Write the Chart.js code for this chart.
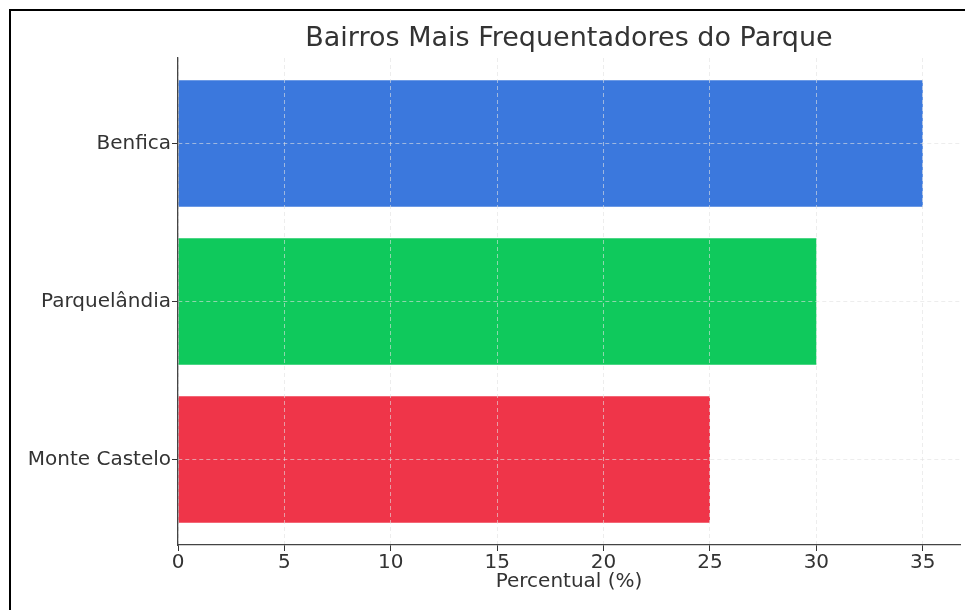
<!DOCTYPE html>
<html lang="pt">
<head>
<meta charset="utf-8">
<title>Bairros Mais Frequentadores do Parque</title>
<script src="https://cdn.jsdelivr.net/npm/chart.js@4/dist/chart.umd.min.js"></script>
<style>
  html, body { margin: 0; padding: 0; background: #fff; overflow: hidden; }
  #wrap { position: relative; width: 965px; height: 610px; }
  #frame {
    position: absolute; left: 9px; top: 9px; width: 1000px; height: 700px;
    border-left: 2px solid #000; border-top: 2px solid #000;
    pointer-events: none;
  }
  canvas { position: absolute; left: 0; top: 0; }
</style>
</head>
<body>
<div id="wrap">
  <canvas id="chart" width="965" height="610"></canvas>
  <div id="frame"></div>
</div>
<script>
  /* ── Data ── */
  const CHART_TITLE = 'Bairros Mais Frequentadores do Parque';
  const X_TITLE = 'Percentual (%)';
  const bairros = ['Benfica', 'Parquelândia', 'Monte Castelo'];
  const percentuais = [35, 30, 25];
  const barColors = ['#3b78dd', '#0fc95c', '#ef3549'];
  const xTicks = [0, 5, 10, 15, 20, 25, 30, 35];

  const TEXT = '#333333';
  const FONT = "'DejaVu Sans', sans-serif";
  const GRID = 'rgba(225,225,225,0.6)';

  /* title centred over the plot area, like matplotlib */
  const plotTitle = {
    id: 'plotTitle',
    afterDraw(chart) {
      const { ctx, chartArea } = chart;
      ctx.save();
      ctx.font = '27px ' + FONT;
      ctx.fillStyle = TEXT;
      ctx.textAlign = 'center';
      ctx.textBaseline = 'middle';
      ctx.fillText(CHART_TITLE, (chartArea.left + chartArea.right) / 2, 39);
      ctx.restore();
    }
  };

  new Chart(document.getElementById('chart'), {
    type: 'bar',
    data: {
      datasets: [{
        data: bairros.map((b, i) => ({ x: percentuais[i], y: i })),
        backgroundColor: barColors,
        borderWidth: 0,
        barPercentage: 0.8,
        categoryPercentage: 1,
      }],
    },
    options: {
      responsive: false,
      animation: false,
      indexAxis: 'y',
      layout: { padding: { top: 58, right: 5, left: 0, bottom: 0 } },
      plugins: {
        legend: { display: false },
        tooltip: { enabled: false },
        title: { display: false },
      },
      scales: {
        x: {
          type: 'linear',
          min: 0,
          max: 36.75,
          afterFit(scale) { scale.height = 65; },
          afterBuildTicks(scale) { scale.ticks = xTicks.map(v => ({ value: v })); },
          ticks: {
            color: TEXT,
            font: { family: FONT, size: 20 },
            padding: 0,
          },
          grid: {
            z: 1,
            color: GRID,
            lineWidth: 1,
            tickColor: '#333',
            tickLength: 6,
          },
          border: { display: true, color: '#444', width: 1.3, dash: [4, 3], z: 2 },
          title: {
            display: true,
            text: X_TITLE,
            color: TEXT,
            font: { family: FONT, size: 20 },
            padding: { top: 0, bottom: 16 },
          },
        },
        y: {
          type: 'linear',
          reverse: true,
          offset: false,
          min: -0.54,
          max: 2.54,
          afterFit(scale) { scale.width = 178; },
          afterBuildTicks(scale) { scale.ticks = bairros.map((b, i) => ({ value: i })); },
          ticks: {
            color: TEXT,
            font: { family: FONT, size: 20 },
            padding: 1,
            callback: (v) => bairros[v],
          },
          grid: {
            z: 1,
            offset: false,
            color: GRID,
            lineWidth: 1,
            tickColor: '#333',
            tickLength: 6,
          },
          border: { display: true, color: '#444', width: 1.3, dash: [4, 3], z: 2 },
        },
      },
    },
    plugins: [plotTitle],
  });
</script>
</body>
</html>
